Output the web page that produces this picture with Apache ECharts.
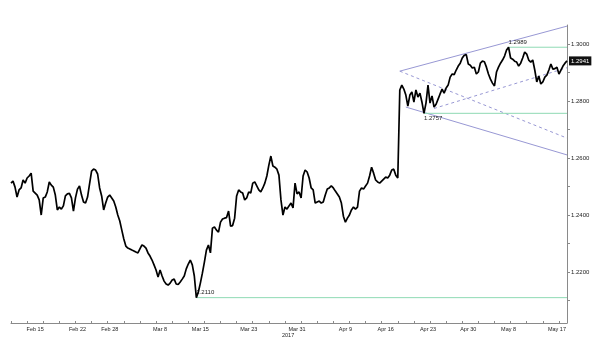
<!DOCTYPE html>
<html><head><meta charset="utf-8">
<script src="https://cdn.jsdelivr.net/npm/echarts@6/dist/echarts.min.js"></script>
<style>html,body{margin:0;padding:0;background:#fff}#c{width:600px;height:348px}</style>
</head><body><div id="c"></div>
<script>
// GBP/USD, 6-hour samples
const pricesFeb = [1.2512,1.2519,1.2498,1.2463,1.2488,1.2495,1.2523,1.2512,1.2530,1.2537,1.2547,1.2484,1.2477,1.2470,1.2453,1.2400,1.2460,1.2463,1.2481,1.2516,1.2505,1.2498,1.2470,1.2418,1.2428,1.2421,1.2432,1.2467,1.2474,1.2476,1.2460,1.2414,1.2460,1.2491,1.2502,1.2470,1.2446,1.2442,1.2463,1.2509,1.2554,1.2561,1.2558,1.2544,1.2495,1.2467,1.2418,1.2442,1.2463,1.2470];
const pricesMar1 = [1.2460,1.2449,1.2428,1.2400,1.2379,1.2347,1.2316,1.2291,1.2284,1.2281,1.2277,1.2274,1.2270,1.2267,1.2281,1.2295,1.2291,1.2284,1.2267,1.2256,1.2242,1.2225,1.2207,1.2182,1.2207,1.2186,1.2168,1.2158,1.2154,1.2161,1.2172,1.2175,1.2158,1.2156,1.2165,1.2175,1.2186,1.2211,1.2228,1.2242,1.2225,1.2186,1.2110,1.2130,1.2161,1.2196,1.2235,1.2277,1.2295,1.2267];
const pricesMar2 = [1.2354,1.2358,1.2347,1.2340,1.2375,1.2386,1.2389,1.2391,1.2414,1.2361,1.2363,1.2389,1.2467,1.2488,1.2481,1.2477,1.2453,1.2460,1.2481,1.2477,1.2512,1.2516,1.2502,1.2488,1.2481,1.2495,1.2512,1.2537,1.2575,1.2607,1.2572,1.2568,1.2561,1.2540,1.2453,1.2400,1.2428,1.2421,1.2432,1.2442,1.2425,1.2512,1.2474,1.2481,1.2460,1.2537,1.2558,1.2551,1.2530,1.2495];
const pricesApr1 = [1.2488,1.2442,1.2446,1.2449,1.2442,1.2446,1.2470,1.2491,1.2495,1.2502,1.2495,1.2484,1.2474,1.2463,1.2442,1.2396,1.2375,1.2389,1.2400,1.2418,1.2428,1.2421,1.2428,1.2484,1.2495,1.2491,1.2502,1.2512,1.2537,1.2568,1.2547,1.2523,1.2516,1.2512,1.2519,1.2526,1.2533,1.2530,1.2540,1.2558,1.2561,1.2540,1.2530,1.2839,1.2856,1.2842,1.2821,1.2782,1.2821,1.2832];
const pricesApr2 = [1.2796,1.2839,1.2814,1.2828,1.2796,1.2757,1.2793,1.2856,1.2793,1.2818,1.2779,1.2789,1.2807,1.2825,1.2842,1.2828,1.2846,1.2856,1.2884,1.2895,1.2893,1.2909,1.2923,1.2933,1.2951,1.2961,1.2963,1.2930,1.2926,1.2916,1.2919,1.2895,1.2902,1.2933,1.2940,1.2938,1.2919,1.2895,1.2877,1.2863,1.2853,1.2902,1.2919,1.2933,1.2944,1.2958,1.2979,1.2989,1.2951,1.2947];
const pricesMay = [1.2940,1.2937,1.2923,1.2933,1.2951,1.2972,1.2965,1.2944,1.2937,1.2944,1.2909,1.2867,1.2888,1.2860,1.2867,1.2884,1.2891,1.2909,1.2930,1.2912,1.2914,1.2919,1.2895,1.2909,1.2923,1.2933,1.2941];

// date tick labels and the sample index each falls on
const tickLabels = ["Feb 15","Feb 22","Feb 28","Mar 8","Mar 15","Mar 23","Mar 31","Apr 9","Apr 16","Apr 23","Apr 30","May 8","May 17"];
const tickSlots  = [12,33,49,74,94,118,142,166,186,207,227,247,271];
const yearLabel = "2017";

// price axis
const yLabelValues = [1.22,1.24,1.26,1.28,1.30];
const yTickValues = [1.21,1.22,1.23,1.24,1.25,1.26,1.27,1.28,1.29,1.30];

// horizontal levels
const levels = [1.2989, 1.2757, 1.2110];
const levelStartSlots = [247, 205, 92];
const levelLabelPos = ['top','bottom','top'];

// trend lines (broadening formation)
const trendFrom = [[193,1.2905],[196,1.2779],[193,1.2905],[210,1.2774]];
const trendTo   = [[276,1.3063],[276,1.2611],[276,1.2670],[276,1.2917]];
const trendDashed = [false,false,true,true];

const prices = [].concat(pricesFeb, pricesMar1, pricesMar2, pricesApr1, pricesApr2, pricesMay);
const lastSlot = prices.length - 1;
const cats = prices.map((_, i) => {
  const k = tickSlots.indexOf(i);
  return k >= 0 ? tickLabels[k] : String(i);
});

const purple = '#9898d4';
const green = '#8fdab4';
const axisGray = '#8a8a8a';

const series = [];
trendFrom.forEach((from, i) => {
  series.push({
    type: 'line', data: [from, trendTo[i]], symbol: 'none', silent: true,
    lineStyle: { color: purple, width: 1, type: trendDashed[i] ? [3, 3] : 'solid' },
    z: 2
  });
});
levels.forEach((lv, i) => {
  series.push({
    type: 'line', silent: true, z: 3,
    showSymbol: true, symbol: 'circle', symbolSize: 0,
    itemStyle: { color: green },
    lineStyle: { color: green, width: 1, type: 'solid' },
    data: [
      { value: [levelStartSlots[i], lv],
        label: { show: true, position: levelLabelPos[i], align: 'left', distance: 2,
                 formatter: lv.toFixed(4), fontSize: 6, color: '#222', fontFamily: 'Liberation Sans' } },
      { value: [lastSlot, lv] }
    ]
  });
});
series.push({
  type: 'line',
  data: prices,
  symbol: 'none',
  lineStyle: { color: '#000', width: 1.7 },
  z: 5,
  endLabel: {
    show: true,
    formatter: p => Number(p.value).toFixed(4),
    backgroundColor: '#111', color: '#fff', fontSize: 6,
    fontFamily: 'Liberation Sans', padding: [2, 2, 1, 2], distance: 2
  }
});

const chart = echarts.init(document.getElementById('c'), null, { renderer: 'canvas' });
chart.setOption({
  animation: false,
  backgroundColor: '#fff',
  grid: { left: 11, right: 33, top: 25, bottom: 25, containLabel: false },
  xAxis: {
    type: 'category', data: cats, boundaryGap: false,
    axisLine: { show: true, lineStyle: { color: axisGray, width: 1 } },
    axisTick: { show: true, inside: true, length: 2, interval: i => i % 8 === 0, lineStyle: { color: axisGray } },
    axisLabel: { interval: i => tickSlots.indexOf(i) >= 0, fontSize: 5.5, color: '#222', margin: 3,
                 fontFamily: 'Liberation Sans' },
    splitLine: { show: false }
  },
  yAxis: {
    type: 'value', position: 'right', min: 1.2021, max: 1.3067, scale: true,
    axisLine: { show: true, lineStyle: { color: axisGray, width: 1 } },
    axisTick: { show: true, customValues: yTickValues, length: 3, lineStyle: { color: axisGray } },
    axisLabel: { customValues: yLabelValues, formatter: v => v.toFixed(4), fontSize: 6, color: '#222',
                 margin: 4, fontFamily: 'Liberation Sans' },
    splitLine: { show: false }
  },
  graphic: [{ type: 'text', left: 282, top: 332, style: { text: yearLabel, fontSize: 5.5, fill: '#222', fontFamily: 'Liberation Sans' } }],
  series: series
});
</script>
</body></html>
